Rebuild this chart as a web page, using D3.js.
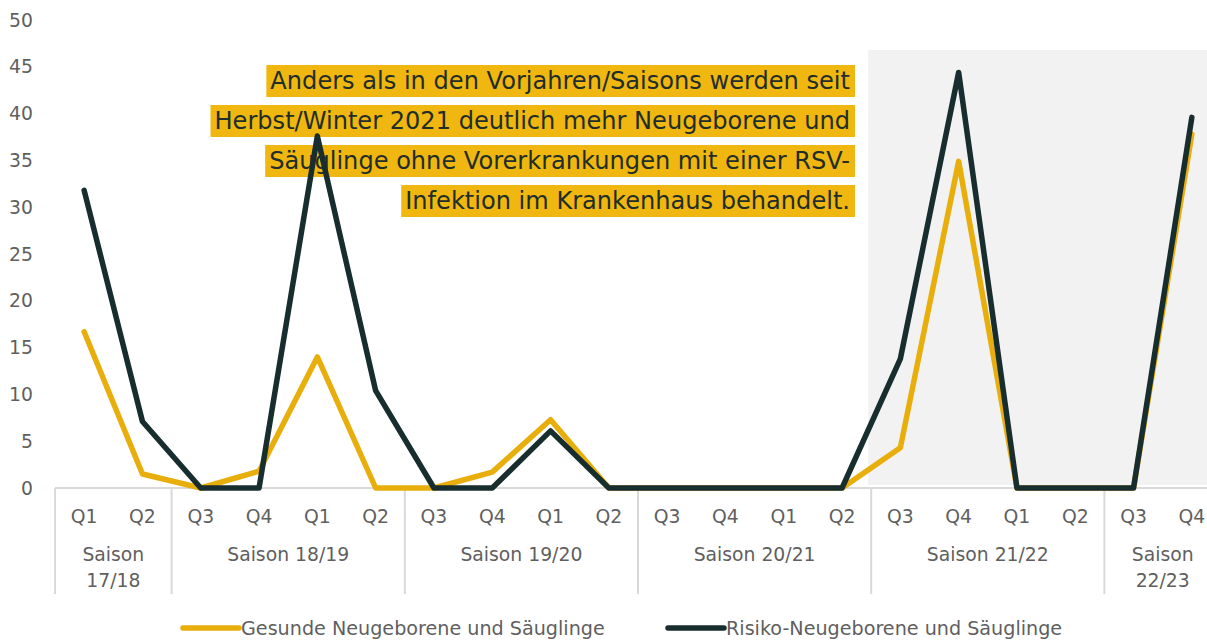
<!DOCTYPE html>
<html><head><meta charset="utf-8">
<script src="https://cdn.jsdelivr.net/npm/d3@7"></script>
<style>
html,body{margin:0;padding:0;background:#fff;}
svg{display:block;font-family:"DejaVu Sans",Inter,sans-serif;}
</style></head>
<body>
<svg id="chart" width="1207" height="640"></svg>
<script>
const quarters = ["Q1","Q2","Q3","Q4","Q1","Q2","Q3","Q4","Q1","Q2","Q3","Q4","Q1","Q2","Q3","Q4","Q1","Q2","Q3","Q4"];
const seasons = [
  {label:["Saison","17/18"], n:2},
  {label:["Saison 18/19"], n:4},
  {label:["Saison 19/20"], n:4},
  {label:["Saison 20/21"], n:4},
  {label:["Saison 21/22"], n:4},
  {label:["Saison","22/23"], n:2}
];
const gesund = [16.7,1.5,0,1.8,14.0,0,0,1.7,7.3,0,0,0,0,0,4.3,34.9,0,0,0,37.8];
const risiko = [31.8,7.1,0,0,37.6,10.4,0,0,6.1,0,0,0,0,0,13.8,44.4,0,0,0,39.6];
const yTicks = [0,5,10,15,20,25,30,35,40,45,50];
const seriesNames = ["Gesunde Neugeborene und Säuglinge","Risiko-Neugeborene und Säuglinge"];
const annotation = ["Anders als in den Vorjahren/Saisons werden seit","Herbst/Winter 2021 deutlich mehr Neugeborene und","Säuglinge ohne Vorerkrankungen mit einer RSV-","Infektion im Krankenhaus behandelt."];
const colors = ["#e8ae0c","#182d2d"];

const svg = d3.select("#chart");
const idx = d3.range(quarters.length);
const x = d3.scaleBand().domain(idx).range([55, 55 + 20*58.3]).padding(0);
const y = d3.scaleLinear().domain([0,50]).range([488,20]);
const xc = i => x(i) + x.bandwidth()/2;

function fitSize(sample, target, base, weight) {
  const t = svg.append("text").attr("font-size", base).attr("font-weight", weight).text(sample);
  const w = t.node().getComputedTextLength();
  t.remove();
  return base * target / w;
}
const W = 400;
const fsAnn = fitSize(annotation[1], 636, 20, W);
const fsLeg = fitSize(seriesNames[0], 364, 18, W);
const fsAx = fitSize("Saison 21/22", 122, 17, W);
const txtGray = "#5f5f5f";

// shaded region
svg.append("rect")
  .attr("x", x(14) - 3).attr("y", y(46.8))
  .attr("width", 1207 - (x(14) - 3)).attr("height", y(0) - 3 - y(46.8))
  .attr("fill", "#f2f2f2");

// y tick labels
svg.append("g").selectAll("text").data(yTicks).join("text")
  .attr("x", 33).attr("y", d => y(d)).attr("dy","0.35em")
  .attr("text-anchor","end").attr("font-size", fsAx).attr("font-weight", W).attr("fill",txtGray)
  .text(d => d);

// axis baseline
svg.append("line").attr("x1", 55).attr("x2", 1207).attr("y1", y(0)).attr("y2", y(0))
  .attr("stroke","#d9d9d9").attr("stroke-width",2);

// quarter labels
svg.append("g").selectAll("text").data(idx).join("text")
  .attr("x", d => xc(d)).attr("y", 516).attr("dy","0.35em")
  .attr("text-anchor","middle").attr("font-size", fsAx).attr("font-weight", W).attr("fill",txtGray)
  .text(d => quarters[d]);

// season separators and labels
let start = 0;
const sepXs = [x(0)];
seasons.forEach(s => {
  const end = start + s.n;
  const cx = (x(start) + (end < 20 ? x(end) : x(19) + x.bandwidth()))/2;
  const t = svg.append("text").attr("text-anchor","middle").attr("font-size",fsAx).attr("font-weight", W).attr("fill",txtGray);
  s.label.forEach((l,k) => {
    t.append("tspan").attr("x", cx).attr("y", 561 + k*26).text(l);
  });
  if (end < 20) sepXs.push(x(end));
  start = end;
});
svg.append("g").selectAll("line").data(sepXs).join("line")
  .attr("x1", d=>d).attr("x2", d=>d).attr("y1", y(0)).attr("y2", 594)
  .attr("stroke","#d9d9d9").attr("stroke-width",2);

// annotation (drawn beneath the lines)
const ag = svg.append("g");
const rightX = 850;
annotation.forEach((l,k) => {
  const ty = 81 + k*40;
  const t = ag.append("text").attr("x", rightX).attr("y", ty).attr("dy","0.35em")
    .attr("text-anchor","end").attr("font-size", fsAnn).attr("font-weight", W).attr("fill","#1f2d2b").text(l);
  const bb = t.node().getBBox();
  ag.insert("rect", "text").attr("x", bb.x - 4).attr("y", ty - 16)
    .attr("width", bb.width + 9).attr("height", 32).attr("fill","#efb70f");
});

// lines
const line = d3.line().x((d,i) => xc(i)).y(d => y(d));
[gesund, risiko].forEach((data,k) => {
  svg.append("path").datum(data).attr("d", line)
    .attr("fill","none").attr("stroke", colors[k]).attr("stroke-width", 5.5)
    .attr("stroke-linejoin","round").attr("stroke-linecap","round");
});

// legend
const legX = [183, 668];
seriesNames.forEach((n,k) => {
  svg.append("line").attr("x1", legX[k]).attr("x2", legX[k]+56).attr("y1", 628).attr("y2", 628)
    .attr("stroke", colors[k]).attr("stroke-width", 5.5).attr("stroke-linecap","round");
  svg.append("text").attr("x", legX[k]+58).attr("y", 628).attr("dy","0.35em")
    .attr("font-size", fsLeg).attr("font-weight", W).attr("fill",txtGray).text(n);
});
</script>
</body></html>
